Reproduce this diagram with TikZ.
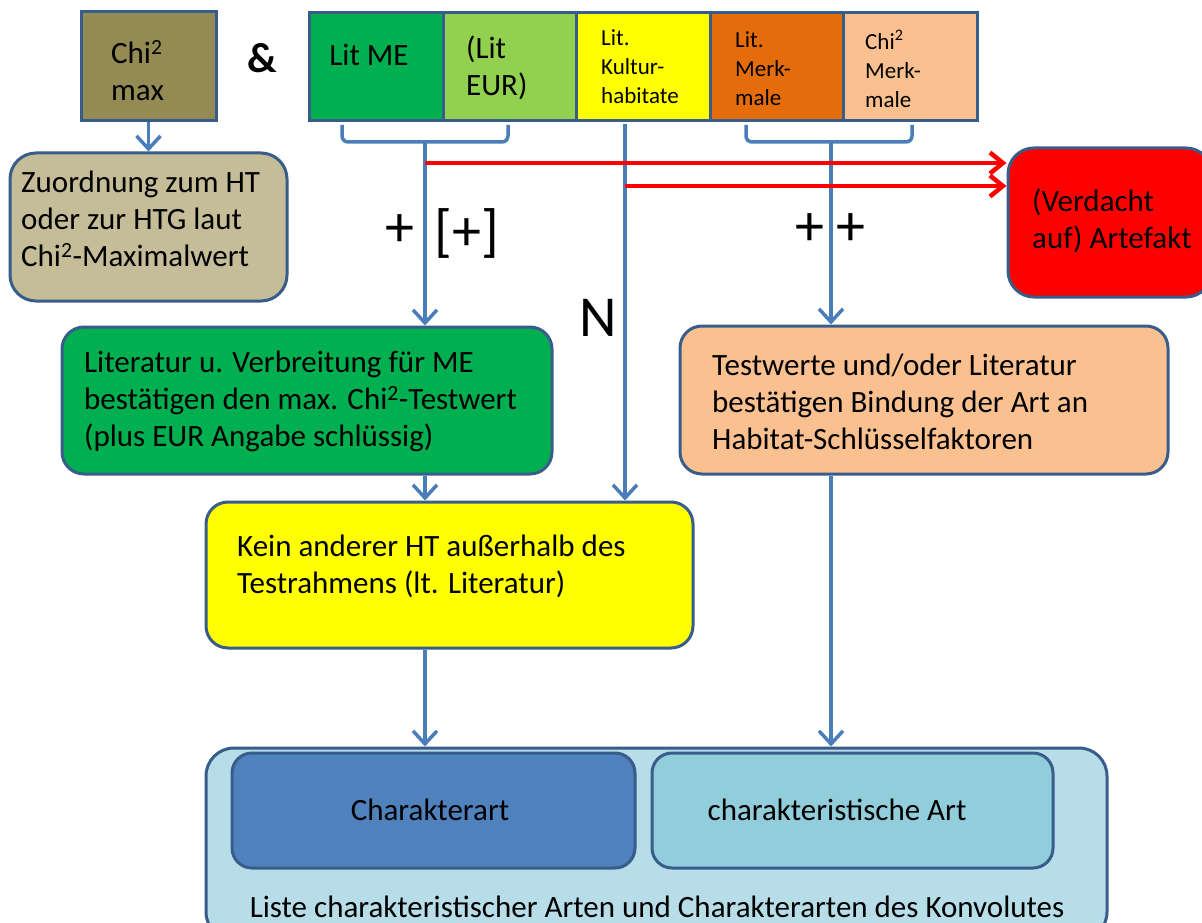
\documentclass[tikz,border=0pt]{standalone}
\usepackage{fontspec}
\setmainfont{Carlito}
\usetikzlibrary{arrows.meta}
\definecolor{bordc}{HTML}{385D8A}
\definecolor{arrc}{HTML}{4A7EBB}
\definecolor{olive}{HTML}{948A54}
\definecolor{tan}{HTML}{C4BD97}
\definecolor{gr}{HTML}{00B050}
\definecolor{lgr}{HTML}{92D050}
\definecolor{yel}{HTML}{FFFF00}
\definecolor{ora}{HTML}{E46C0A}
\definecolor{pea}{HTML}{FAC090}
\definecolor{rd}{HTML}{FF0000}
\definecolor{blu}{HTML}{4F81BD}
\definecolor{lblu}{HTML}{92CDDC}
\definecolor{oblu}{HTML}{B7DDE8}
\tikzset{
  sqbox/.style={draw=bordc, line width=3pt, inner sep=0pt},
  rbox/.style={sqbox, rounded corners=22pt},
  conn/.style={draw=arrc, line width=3.5pt},
  arr/.style={conn, -{Straight Barb[length=13pt,width=24pt]}},
  redarr/.style={draw=rd, line width=4.5pt, -{Straight Barb[length=13pt,width=21pt]}},
  txt/.style={inner sep=0pt, align=left, font=\fontsize{31}{37}\selectfont},
  stxt/.style={inner sep=0pt, align=left, font=\fontsize{23}{29}\selectfont},
  mtxt/.style={inner sep=0pt, align=left, font=\fontsize{31}{37}\selectfont},
  btxt/.style={inner sep=0pt, font=\fontsize{58}{60}\selectfont},
}
\begin{document}
\begin{tikzpicture}[x=1pt,y=-1pt]
\useasboundingbox[fill=white] (0,0) rectangle (1202,923);

% top left
\node[sqbox, fill=olive, minimum width=135pt, minimum height=109pt] (chi) at (148.5,66.5) {};
\node[mtxt, anchor=west] (chit) at (111,71) {Chi\textsuperscript{2}\\max};
\node[inner sep=0pt, font=\bfseries\fontsize{42}{44}\selectfont] (amp) at (262,58) {\&};
\node[rbox, rounded corners=26pt, fill=tan, minimum width=277pt, minimum height=148pt] (zu) at (148.5,227) {};
\node[txt, anchor=west] (zut) at (21,219) {Zuordnung zum HT\\oder zur HTG laut\\Chi\textsuperscript{2}-Maximalwert};

% top row
\node[sqbox, fill=gr,  minimum width=134pt, minimum height=108pt] (c1) at (376,67) {};
\node[sqbox, fill=lgr, minimum width=133pt, minimum height=108pt] (c2) at (509.5,67) {};
\node[sqbox, fill=yel, minimum width=134pt, minimum height=108pt] (c3) at (643,67) {};
\node[sqbox, fill=ora, minimum width=133pt, minimum height=108pt] (c4) at (776.5,67) {};
\node[sqbox, fill=pea, minimum width=134pt, minimum height=108pt] (c5) at (910,67) {};
\node[mtxt] (c1t) at (369,55) {Lit ME};
\node[mtxt, anchor=west] (c2t) at (466,68) {(Lit\\EUR)};
\node[stxt, anchor=west] (c3t) at (601,67) {Lit.\\Kultur-\\habitate};
\node[stxt, anchor=west] (c4t) at (735,69) {Lit.\\Merk-\\male};
\node[stxt, anchor=west] (c5t) at (865,69) {Chi\textsuperscript{2}\\Merk-\\male};

% red box
\node[rbox, rounded corners=26pt, fill=rd, minimum width=204pt, minimum height=149pt] (art) at (1110,222.5) {};
\node[txt, anchor=west] (artt) at (1032,221) {(Verdacht\\auf) Artefakt};

% middle boxes
\node[rbox, fill=gr, minimum width=490pt, minimum height=147pt] (lit) at (307,400.5) {};
\node[txt, anchor=west] (litt) at (84,401) {Literatur u. Verbreitung für ME\\bestätigen den max. Chi\textsuperscript{2}-Testwert\\(plus EUR Angabe schlüssig)};
\node[rbox, fill=pea, minimum width=488pt, minimum height=148pt] (pe) at (924,400) {};
\node[txt, anchor=west] (pet) at (712,402) {Testwerte und/oder Literatur\\bestätigen Bindung der Art an\\Habitat-Schlüsselfaktoren};
\node[rbox, fill=yel, minimum width=487pt, minimum height=146pt] (ye) at (449.5,575) {};
\node[txt, anchor=west] (yet) at (237,566) {Kein anderer HT außerhalb des\\Testrahmens (lt. Literatur)};

% bottom
\node[rbox, rounded corners=28pt, fill=oblu, minimum width=901pt, minimum height=192pt] (out) at (656.5,844) {};
\node[rbox, rounded corners=20pt, fill=blu, minimum width=403pt, minimum height=115pt] (ca) at (433.5,810.5) {};
\node[rbox, rounded corners=20pt, fill=lblu, minimum width=401pt, minimum height=115pt] (cs) at (852.5,810.5) {};
\node[txt] (cat) at (430,810) {Charakterart};
\node[txt] (cst) at (837,810) {charakteristische Art};
\node[txt, text depth=0pt, anchor=base] (outt) at (657,917) {Liste charakteristischer Arten und Charakterarten des Konvolutes};

% braces
\coordinate (bL) at (425,142);
\coordinate (bR) at (831,142);
\coordinate (kS) at (625,124);
\draw[conn, rounded corners=6pt] (342,125) |- (bL) -| (508,125);
\draw[conn, rounded corners=6pt] (746,125) |- (bR) -| (912,125);

% arrows
\draw[arr] (chi.south) -- (zu.north);
\draw[arr] (bL) -- (bL |- lit.north);
\draw[arr] (kS) -- (kS |- ye.north);
\draw[arr] (bR) -- (bR |- pe.north);
\draw[arr] (bL |- lit.south) -- (bL |- ye.north);
\draw[arr] (bL |- ye.south) -- (bL |- out.north);
\draw[arr] (bR |- pe.south) -- (bR |- out.north);

% red arrows
\coordinate (r1) at (425,163);
\coordinate (r2) at (625,186);
\draw[redarr] (r1) -- (r1 -| art.west);
\draw[redarr] (r2) -- (r2 -| art.west);

% labels
\node[btxt] (p1) at (400,231) {+};
\node[btxt] (p2) at (467,233) {[+]};
\node[btxt] (nn) at (598,318) {N};
\node[btxt] (p3) at (810,230) {+};
\node[btxt] (p4) at (851,230) {+};
\end{tikzpicture}
\end{document}
